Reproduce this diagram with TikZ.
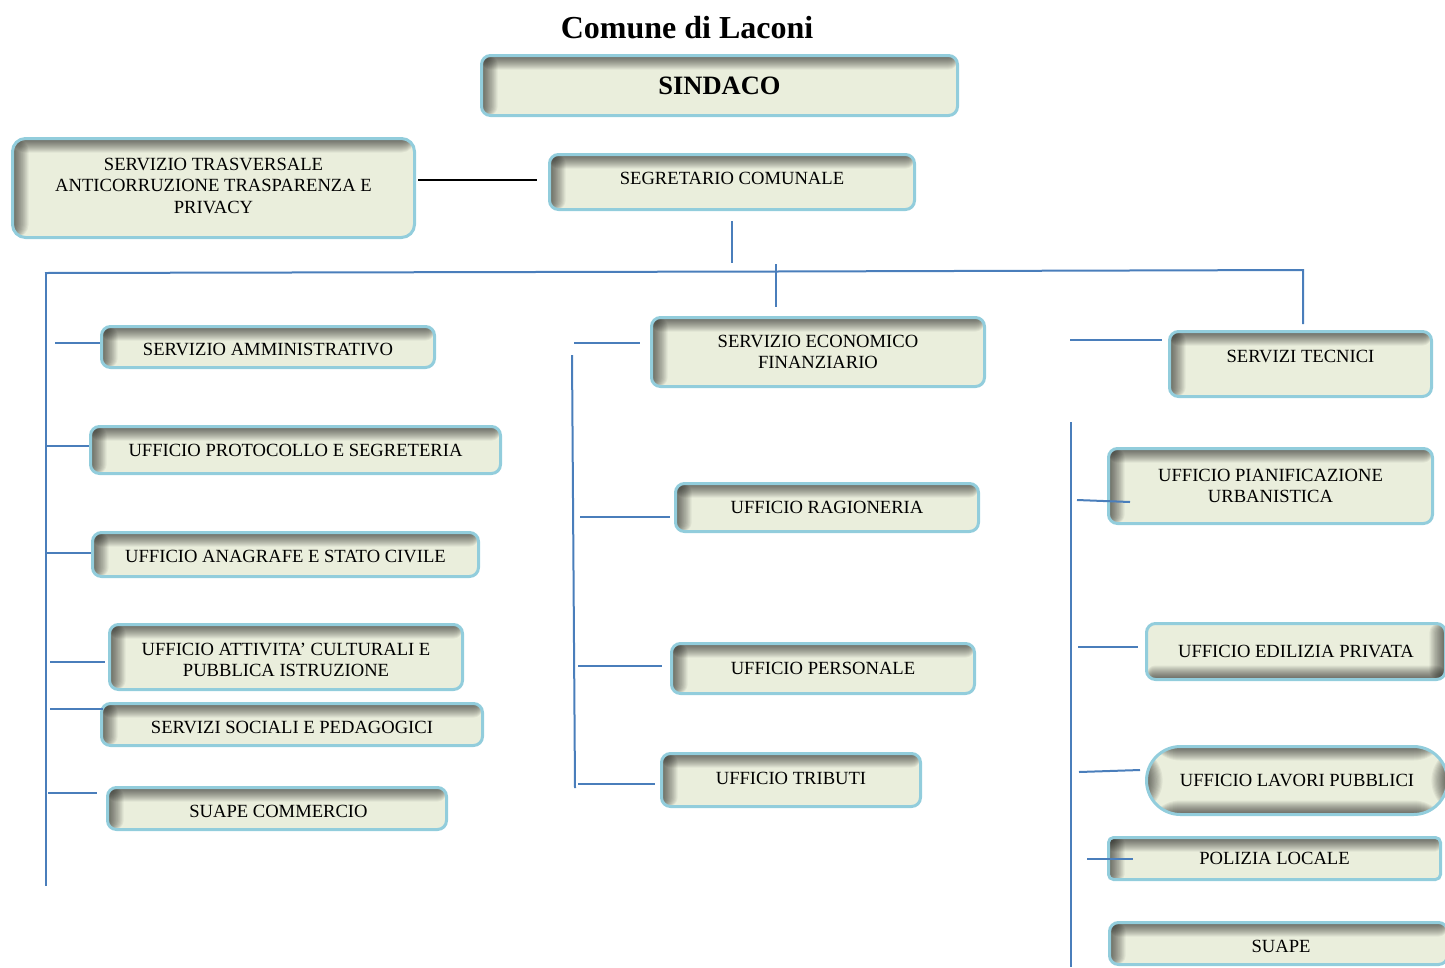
\documentclass[tikz,border=0pt]{standalone}
\usepackage{fontspec}
\setmainfont{Liberation Serif}
\definecolor{boxfill}{HTML}{EAEEDC}
\definecolor{boxline}{HTML}{92CDDC}
\definecolor{connblue}{HTML}{4A7EBB}
\newcommand\shadowTL{%
  \foreach \i in {1,...,14}{%
    \fill[black,opacity=0.05] (path picture bounding box.north west) rectangle ([yshift=-\i pt]path picture bounding box.north east);
    \fill[black,opacity=0.05] (path picture bounding box.north west) rectangle ([xshift=\i*1.15pt]path picture bounding box.south west);
  }}
\newcommand\shadowBR{%
  \foreach \i in {1,...,14}{%
    \fill[black,opacity=0.05] (path picture bounding box.south west) rectangle ([yshift=\i pt]path picture bounding box.south east);
    \fill[black,opacity=0.05] (path picture bounding box.north east) rectangle ([xshift=-\i*1.15pt]path picture bounding box.south east);
  }}
\tikzset{
  box/.style={draw=boxline, line width=3pt, fill=boxfill, rounded corners=9pt,
    inner sep=0pt, align=center, font=\fontsize{18.6}{21.5}\selectfont,
    path picture={\shadowTL}},
  boxflip/.style={path picture={\shadowBR}},
  boxpill/.style={rounded corners=34pt, path picture={\shadowTL\shadowBR}},
  down2/.style={text height=16.5pt, text depth=0pt},
  down3/.style={text height=18.5pt, text depth=0pt},
  conn/.style={draw=connblue, line width=2pt},
  blackconn/.style={draw=black, line width=2.5pt},
  titletext/.style={font=\fontsize{32}{36}\bfseries\selectfont}
}
\newcommand\obox[7]{%
  \pgfmathsetmacro\bw{#5-#3-3}\pgfmathsetmacro\bh{#6-#4-3}%
  \node[box,minimum width=\bw pt,minimum height=\bh pt,#1] (#2) at ({(#3+#5)/2},{(#4+#6)/2}) {#7};}
\begin{document}
\begin{tikzpicture}[x=1pt,y=-1pt]
\useasboundingbox (0,0) rectangle (1445,967);
\node[titletext] (title) at (687,28) {Comune di Laconi};
% top
\obox{font=\fontsize{26.5}{30}\bfseries\selectfont}{sind}{480}{54}{959}{117}{SINDACO}
\obox{text depth=7pt}{seg}{548}{153}{916}{211}{SEGRETARIO COMUNALE}
\obox{text depth=5pt, rounded corners=13pt}{trasv}{11}{137}{416}{239}{SERVIZIO TRASVERSALE\\ANTICORRUZIONE TRASPARENZA E\\PRIVACY}
% left column
\obox{down2}{amm}{100}{325}{436}{369}{SERVIZIO AMMINISTRATIVO}
\obox{}{prot}{89}{425}{502}{475}{UFFICIO PROTOCOLLO E SEGRETERIA}
\obox{down2}{anag}{91}{531}{480}{578}{UFFICIO ANAGRAFE E STATO CIVILE}
\obox{}{cult}{108}{623}{464}{691}{\rule{0pt}{18.5pt}UFFICIO ATTIVITA' CULTURALI E\\PUBBLICA ISTRUZIONE}
\obox{down3}{soc}{100}{702}{484}{747}{SERVIZI SOCIALI E PEDAGOGICI}
\obox{down3}{suapec}{106}{786}{448}{831}{\hspace*{3pt}SUAPE COMMERCIO}
% middle column
\obox{}{ecfin}{650}{316}{986}{388}{SERVIZIO ECONOMICO\\FINANZIARIO}
\obox{}{rag}{674}{482}{980}{533}{UFFICIO RAGIONERIA}
\obox{}{pers}{670}{642}{976}{695}{UFFICIO PERSONALE}
\obox{text depth=4pt}{trib}{660}{752}{922}{808}{UFFICIO TRIBUTI}
% right column
\obox{text depth=16pt}{tec}{1168}{330}{1433}{398}{SERVIZI TECNICI}
\obox{}{pian}{1107}{447}{1434}{525}{UFFICIO PIANIFICAZIONE\\URBANISTICA}
\obox{boxflip}{edil}{1145}{622}{1447}{681}{UFFICIO EDILIZIA PRIVATA}
\obox{boxpill}{lav}{1145}{745}{1449}{816}{UFFICIO LAVORI PUBBLICI}
\obox{rounded corners=5pt}{poli}{1107}{836}{1442}{881}{POLIZIA LOCALE}
\obox{down3}{suape}{1108}{921}{1449}{966}{\hspace*{5pt}SUAPE}
% connectors
\draw[blackconn] (trasv.east |- 0,180) ++(2,0) -- ([xshift=-11pt]seg.west |- 0,180);
\coordinate (segdown) at (732,221);
\coordinate (hl) at (45,273);
\coordinate (hm) at (776,271.5);
\coordinate (hr) at (1303,270);
\draw[conn] (segdown) -- (732,263);
\draw[conn] (hl) -- (hm) -- (hr) -- (1303,324);
\draw[conn] (776,264) -- (776,307);
\draw[conn] (46,272) -- (46,886);
\draw[conn] (55,343) -- (amm.west |- 0,343);
\draw[conn] (46,446) -- (prot.west |- 0,446);
\draw[conn] (46,553) -- (anag.west |- 0,553);
\draw[conn] (50,662) -- ([xshift=-3pt]cult.west |- 0,662);
\draw[conn] (50,709) -- ([xshift=3pt]soc.west |- 0,709);
\draw[conn] (48,793) -- ([xshift=-9pt]suapec.west |- 0,793);
% middle
\draw[conn] (574,343) -- ([xshift=-10pt]ecfin.west |- 0,343);
\draw[conn] (572,355) -- (575,788);
\draw[conn] (580,517) -- ([xshift=-4pt]rag.west |- 0,517);
\draw[conn] (578,666) -- ([xshift=-8pt]pers.west |- 0,666);
\draw[conn] (578,784) -- ([xshift=-5pt]trib.west |- 0,784);
% right
\draw[conn] (1070,340) -- ([xshift=-6pt]tec.west |- 0,340);
\draw[conn] (1071,422) -- (1071,967);
\draw[conn] (1077,500) -- ([xshift=23pt]pian.west |- 0,502);
\draw[conn] (1078,647) -- ([xshift=-7pt]edil.west |- 0,647);
\draw[conn] (1079,772) -- ([xshift=-5pt]lav.west |- 0,770);
\draw[conn] (1087,859) -- ([xshift=26pt]poli.west |- 0,859);
\end{tikzpicture}
\end{document}
